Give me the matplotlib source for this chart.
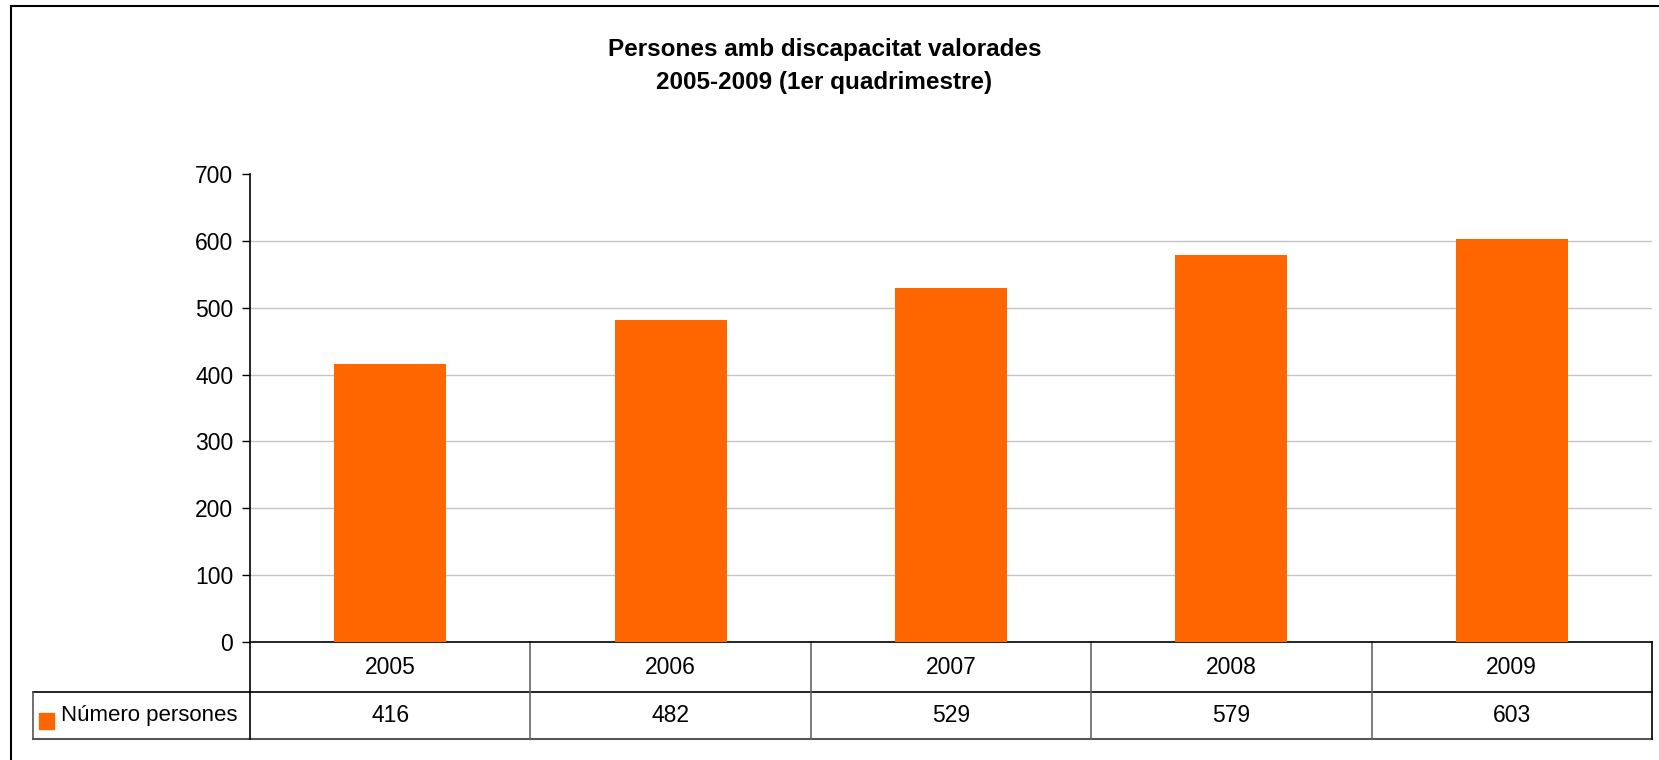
import numpy as np
import matplotlib
matplotlib.use('Agg')
import matplotlib.pyplot as plt
from matplotlib.patches import Rectangle

plt.rcParams['font.family'] = ['Liberation Sans', 'DejaVu Sans']

# dades
anys = ['2005', '2006', '2007', '2008', '2009']
persones = [416, 482, 529, 579, 603]
serie = 'Número persones'
titol = 'Persones amb discapacitat valorades\n2005-2009 (1er quadrimestre)'
taronja = '#FF6600'

W, H = 1659, 760
fig = plt.figure(figsize=(W / 100, H / 100), dpi=100)

# marc exterior del gràfic (tallat a dreta i a baix)
fig.patches.append(Rectangle((11 / W, -0.05), 1.1, 1 - 6 / H + 0.05,
                             transform=fig.transFigure, fill=False,
                             edgecolor='black', linewidth=1.5))

# eixos: x 250..1652 px, y 174..642 px
ax = fig.add_axes([250 / W, 1 - 642 / H, 1402 / W, 468 / H])
x = np.arange(len(anys))
ax.bar(x, persones, width=0.4, color=taronja, zorder=3)
ax.set_xlim(-0.5, len(anys) - 0.5)
ax.set_ylim(0, 700)
ax.set_yticks(range(0, 701, 100))
ax.tick_params(axis='y', labelsize=16.5, length=6, width=1, direction='out', pad=6)
ax.set_xticks([])
for v in range(100, 700, 100):
    ax.axhline(v, color='#c4c4c4', linewidth=1, zorder=1)
for s in ['top', 'right']:
    ax.spines[s].set_visible(False)
ax.spines['left'].set_linewidth(1.2)
ax.spines['bottom'].set_linewidth(1.2)

fig.text(0.497, 1 - 66 / H, titol, ha='center', va='center',
         fontsize=17.5, fontweight='bold', linespacing=1.55)

# taula de dades sota l'eix
hpx = 468.0
r1 = -50 / hpx
r2 = -97 / hpx
left_leg = (33 - 250) / 1402.0
tx = ax.get_xaxis_transform()
kw = dict(clip_on=False, color='black', linewidth=1.2)
ax.plot([0, 1], [r1, r1], transform=ax.transAxes, **kw)
ax.plot([left_leg, 1], [r2, r2], transform=ax.transAxes, clip_on=False,
        color='#555555', linewidth=1.5)
ax.plot([left_leg, 0], [r1, r1], transform=ax.transAxes, **kw)
ax.plot([left_leg, left_leg], [r1, r2], transform=ax.transAxes, clip_on=False,
        color='#555555', linewidth=1.2)
ax.plot([0, 0], [0, r2], transform=ax.transAxes, **kw)
ax.plot([1, 1], [0, r2], transform=ax.transAxes, **kw)
for i in range(1, len(anys)):
    ax.plot([i - 0.5, i - 0.5], [0, r2], transform=tx, clip_on=False,
            color='#666666', linewidth=1.2)

for i, (a, p) in enumerate(zip(anys, persones)):
    ax.text(i, r1 / 2, a, transform=tx, ha='center', va='center', fontsize=16.5)
    ax.text(i, (r1 + r2) / 2, str(p), transform=tx, ha='center', va='center',
            fontsize=16.5)

ax.add_patch(Rectangle(((39 - 250) / 1402.0, (642 - 729) / hpx), 15 / 1402.0, 16 / hpx,
                       transform=ax.transAxes, clip_on=False, color=taronja))
ax.text((61 - 250) / 1402.0, (r1 + r2) / 2, serie, transform=ax.transAxes,
        ha='left', va='center', fontsize=16)

fig.savefig('out.png', dpi=100)
